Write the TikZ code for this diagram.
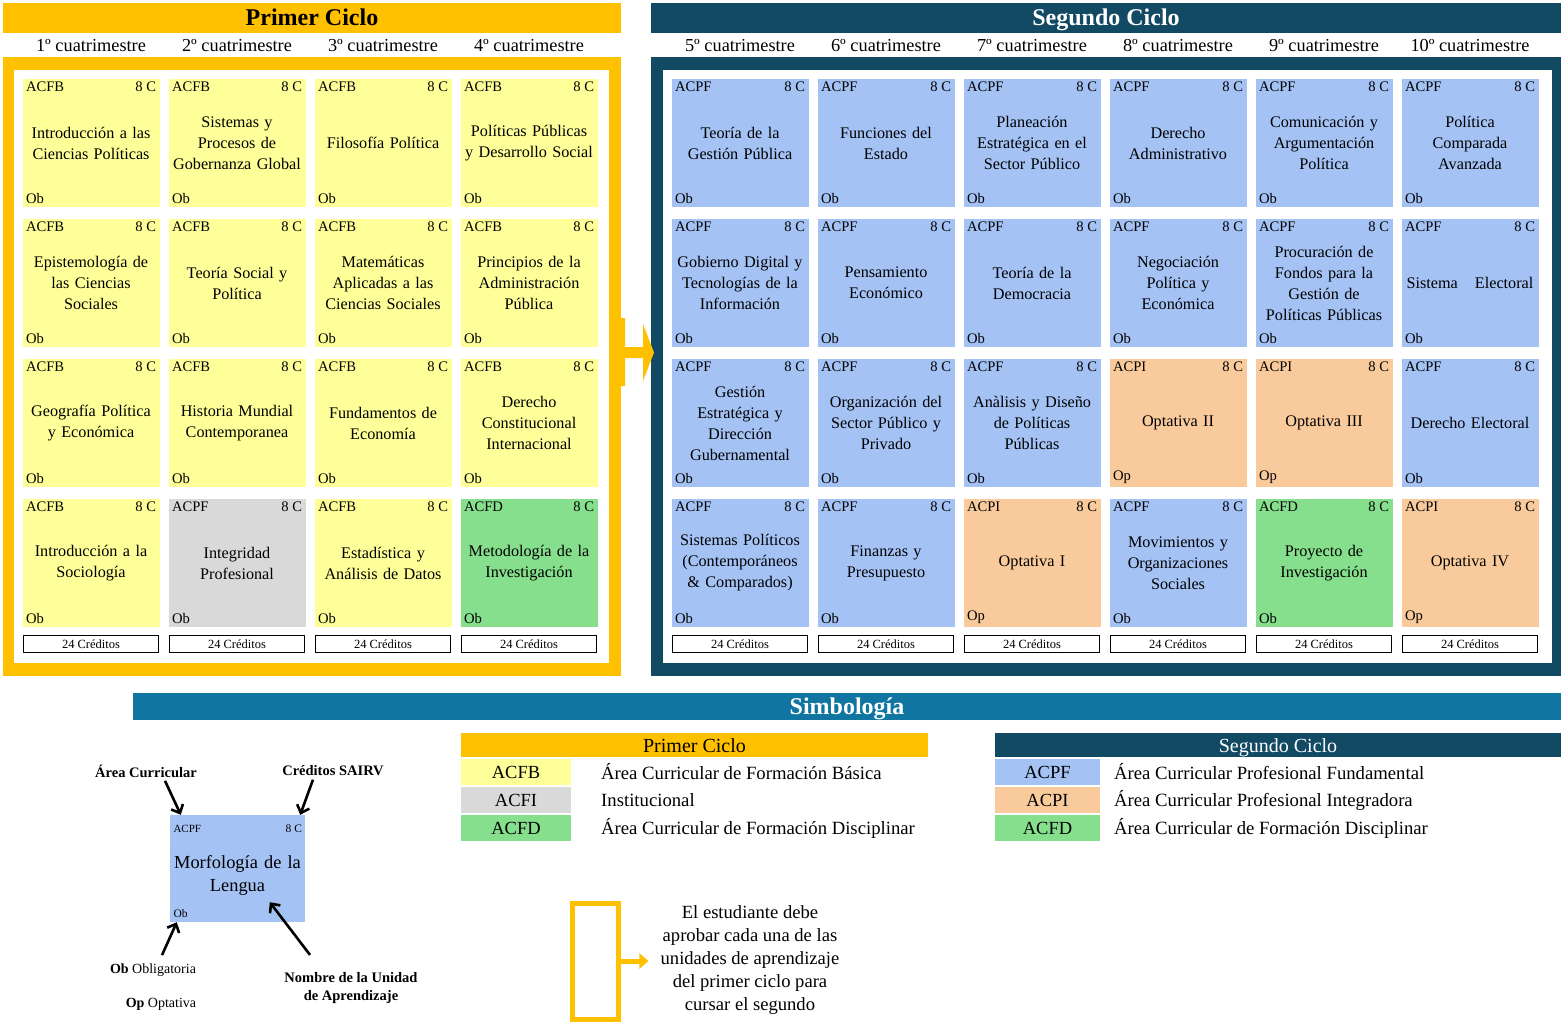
\documentclass[tikz,border=0pt]{standalone}
\usepackage{fontspec}
\setmainfont{Liberation Serif}
\usetikzlibrary{positioning, arrows.meta}

\definecolor{cicloA}{HTML}{FFC000}
\definecolor{cicloB}{HTML}{124963}
\definecolor{simb}{HTML}{1075A1}
\definecolor{fb}{HTML}{FFFF99}
\definecolor{fi}{HTML}{D9D9D9}
\definecolor{fd}{HTML}{86DF8C}
\definecolor{pf}{HTML}{A4C2F4}
\definecolor{pi}{HTML}{F9CB9C}
\newcommand{\fsz}[2]{\fontsize{#1pt}{#2pt}\selectfont}

\begin{document}
\begin{tikzpicture}[x=1pt, y=-1pt, node distance=140pt and 146pt, on grid,
    corner/.style={font=\fsz{14.6}{16}, inner xsep=3.5pt, inner ysep=3pt, text width=, align=left, minimum width=0pt, minimum height=0pt, fill=none},
    unit/.style n args={3}{fill=#1, minimum width=137pt, minimum height=128pt, text width=134pt, align=center, inner sep=0pt, font=\fsz{16.2}{21},
        label={[corner, anchor=north west]north west:#2},
        label={[corner, anchor=north east]north east:8 C},
        label={[corner, anchor=south west]south west:#3}},
    header/.style={minimum height=30pt, text height=19pt, text depth=3pt, inner sep=0pt, font=\bfseries\fsz{24}{28}},
    sem/.style={font=\fsz{18.3}{22}},
    cred/.style={draw, line width=1.5pt, fill=white, minimum width=135pt, minimum height=17pt, inner sep=0pt, font=\fsz{12.5}{14}},
    keyhead/.style={minimum height=24pt, text height=17pt, text depth=1.5pt, inner sep=0pt, font=\fsz{20}{24}},
    key/.style={minimum height=26pt, inner sep=0pt, font=\fsz{18.5}{22}},
    desc/.style={anchor=west, inner sep=0pt, font=\fsz{18.7}{22}},
    lab/.style={align=center, font=\bfseries\fsz{14.5}{18}},
    pointer/.style={line width=2.6pt, -{Straight Barb[length=7pt, width=13pt]}}]

    \useasboundingbox (0,0) rectangle (1566,1030);

    % frames of both cycles
    \fill[cicloA] (3,57) rectangle (621,676);
    \fill[white] (14,70) rectangle (609,663);
    \fill[cicloB] (651,57) rectangle (1561,676);
    \fill[white] (663,70) rectangle (1552,663);
    \fill[cicloA] (621,318) -- (625,318) -- (625,347) -- (643,347) -- (643,324) -- (654,352.5)
        -- (643,381) -- (643,358) -- (625,358) -- (625,386) -- (621,386) -- cycle;

    \node[header, fill=cicloA, minimum width=618pt] (t_1) at (312,18) {Primer Ciclo};
    \node[header, fill=cicloB, text=white, minimum width=910pt] (t_2) at (1106,18) {Segundo Ciclo};

    % primer ciclo
    \node[unit={fb}{ACFB}{Ob}] (c1_1) at (91,143) {Introducción a las\\Ciencias Políticas};
    \node[unit={fb}{ACFB}{Ob}] (c1_2) [below=of c1_1] {Epistemología de\\las Ciencias\\Sociales};
    \node[unit={fb}{ACFB}{Ob}] (c1_3) [below=of c1_2] {Geografía Política\\y Económica};
    \node[unit={fb}{ACFB}{Ob}] (c1_4) [below=of c1_3] {Introducción a la\\Sociología};

    \node[unit={fb}{ACFB}{Ob}] (c2_1) [right=of c1_1] {Sistemas y\\Procesos de\\Gobernanza Global};
    \node[unit={fb}{ACFB}{Ob}] (c2_2) [below=of c2_1] {Teoría Social y\\Política};
    \node[unit={fb}{ACFB}{Ob}] (c2_3) [below=of c2_2] {Historia Mundial\\Contemporanea};
    \node[unit={fi}{ACPF}{Ob}] (c2_4) [below=of c2_3] {Integridad\\Profesional};

    \node[unit={fb}{ACFB}{Ob}] (c3_1) [right=of c2_1] {Filosofía Política};
    \node[unit={fb}{ACFB}{Ob}] (c3_2) [below=of c3_1] {Matemáticas\\Aplicadas a las\\Ciencias Sociales};
    \node[unit={fb}{ACFB}{Ob}] (c3_3) [below=of c3_2] {Fundamentos de\\Economía};
    \node[unit={fb}{ACFB}{Ob}] (c3_4) [below=of c3_3] {Estadística y\\Análisis de Datos};

    \node[unit={fb}{ACFB}{Ob}] (c4_1) [right=of c3_1] {Políticas Públicas\\y Desarrollo Social};
    \node[unit={fb}{ACFB}{Ob}] (c4_2) [below=of c4_1] {Principios de la\\Administración\\Pública};
    \node[unit={fb}{ACFB}{Ob}] (c4_3) [below=of c4_2] {Derecho\\Constitucional\\Internacional};
    \node[unit={fd}{ACFD}{Ob}] (c4_4) [below=of c4_3] {Metodología de la\\Investigación};

    % segundo ciclo
    \node[unit={pf}{ACPF}{Ob}] (c5_1) [right=211pt of c4_1] {Teoría de la\\Gestión Pública};
    \node[unit={pf}{ACPF}{Ob}] (c5_2) [below=of c5_1] {Gobierno Digital y\\Tecnologías de la\\Información};
    \node[unit={pf}{ACPF}{Ob}] (c5_3) [below=of c5_2] {Gestión\\Estratégica y\\Dirección\\Gubernamental};
    \node[unit={pf}{ACPF}{Ob}] (c5_4) [below=of c5_3] {Sistemas Políticos\\(Contemporáneos\\\& Comparados)};

    \node[unit={pf}{ACPF}{Ob}] (c6_1) [right=of c5_1] {Funciones del\\Estado};
    \node[unit={pf}{ACPF}{Ob}] (c6_2) [below=of c6_1] {Pensamiento\\Económico};
    \node[unit={pf}{ACPF}{Ob}] (c6_3) [below=of c6_2] {Organización del\\Sector Público y\\Privado};
    \node[unit={pf}{ACPF}{Ob}] (c6_4) [below=of c6_3] {Finanzas y\\Presupuesto};

    \node[unit={pf}{ACPF}{Ob}] (c7_1) [right=of c6_1] {Planeación\\Estratégica en el\\Sector Público};
    \node[unit={pf}{ACPF}{Ob}] (c7_2) [below=of c7_1] {Teoría de la\\Democracia};
    \node[unit={pf}{ACPF}{Ob}] (c7_3) [below=of c7_2] {Anàlisis y Diseño\\de Políticas\\Públicas};
    \node[unit={pi}{ACPI}{Op}] (c7_4) [below=of c7_3] {Optativa I};

    \node[unit={pf}{ACPF}{Ob}] (c8_1) [right=of c7_1] {Derecho\\Administrativo};
    \node[unit={pf}{ACPF}{Ob}] (c8_2) [below=of c8_1] {Negociación\\Política y\\Económica};
    \node[unit={pi}{ACPI}{Op}] (c8_3) [below=of c8_2] {Optativa II};
    \node[unit={pf}{ACPF}{Ob}] (c8_4) [below=of c8_3] {Movimientos y\\Organizaciones\\Sociales};

    \node[unit={pf}{ACPF}{Ob}] (c9_1) [right=of c8_1] {Comunicación y\\Argumentación\\Política};
    \node[unit={pf}{ACPF}{Ob}] (c9_2) [below=of c9_1] {Procuración de\\Fondos para la\\Gestión de\\Políticas Públicas};
    \node[unit={pi}{ACPI}{Op}] (c9_3) [below=of c9_2] {Optativa III};
    \node[unit={fd}{ACFD}{Ob}] (c9_4) [below=of c9_3] {Proyecto de\\Investigación};

    \node[unit={pf}{ACPF}{Ob}] (c10_1) [right=of c9_1] {Política\\Comparada\\Avanzada};
    \node[unit={pf}{ACPF}{Ob}] (c10_2) [below=of c10_1] {Sistema\hspace{17pt}Electoral};
    \node[unit={pf}{ACPF}{Ob}] (c10_3) [below=of c10_2] {Derecho Electoral};
    \node[unit={pi}{ACPI}{Op}] (c10_4) [below=of c10_3] {Optativa IV};

    % cuatrimestres and credits
    \node[sem] (s1) [above=97pt of c1_1] {1º cuatrimestre};
    \node[sem] (s2) [above=97pt of c2_1] {2º cuatrimestre};
    \node[sem] (s3) [above=97pt of c3_1] {3º cuatrimestre};
    \node[sem] (s4) [above=97pt of c4_1] {4º cuatrimestre};
    \node[sem] (s5) [above=97pt of c5_1] {5º cuatrimestre};
    \node[sem] (s6) [above=97pt of c6_1] {6º cuatrimestre};
    \node[sem] (s7) [above=97pt of c7_1] {7º cuatrimestre};
    \node[sem] (s8) [above=97pt of c8_1] {8º cuatrimestre};
    \node[sem] (s9) [above=97pt of c9_1] {9º cuatrimestre};
    \node[sem] (s10) [above=97pt of c10_1] {10º cuatrimestre};

    \node[cred] (cr1) [below=81pt of c1_4] {24 Créditos};
    \node[cred] (cr2) [below=81pt of c2_4] {24 Créditos};
    \node[cred] (cr3) [below=81pt of c3_4] {24 Créditos};
    \node[cred] (cr4) [below=81pt of c4_4] {24 Créditos};
    \node[cred] (cr5) [below=81pt of c5_4] {24 Créditos};
    \node[cred] (cr6) [below=81pt of c6_4] {24 Créditos};
    \node[cred] (cr7) [below=81pt of c7_4] {24 Créditos};
    \node[cred] (cr8) [below=81pt of c8_4] {24 Créditos};
    \node[cred] (cr9) [below=81pt of c9_4] {24 Créditos};
    \node[cred] (cr10) [below=81pt of c10_4] {24 Créditos};

    % simbologia
    \node[header, fill=simb, text=white, minimum width=1428pt, minimum height=27pt] (simbo) at (847,706.5) {Simbología};

    \node[keyhead, fill=cicloA, minimum width=467pt] (k_1) at (694.5,745) {Primer Ciclo};
    \node[key, fill=fb, minimum width=110pt] (k_fb) at (516,772) {ACFB};
    \node[key, fill=fi, minimum width=110pt] (k_fi) at (516,800) {ACFI};
    \node[key, fill=fd, minimum width=110pt] (k_fd) at (516,828) {ACFD};
    \node[desc] (d_fb) at (601,772) {Área Curricular de Formación Básica};
    \node[desc] (d_fi) at (601,800) {Institucional};
    \node[desc] (d_fd) at (601,828) {Área Curricular de Formación Disciplinar};

    \node[keyhead, fill=cicloB, text=white, minimum width=566pt] (k_2) at (1278,745) {Segundo Ciclo};
    \node[key, fill=pf, minimum width=105pt] (k_pf) at (1047.5,772) {ACPF};
    \node[key, fill=pi, minimum width=105pt] (k_pi) at (1047.5,800) {ACPI};
    \node[key, fill=fd, minimum width=105pt] (k_fd2) at (1047.5,828) {ACFD};
    \node[desc] (d_pf) at (1114,772) {Área Curricular Profesional Fundamental};
    \node[desc] (d_pi) at (1114,800) {Área Curricular Profesional Integradora};
    \node[desc] (d_fd2) at (1114,828) {Área Curricular de Formación Disciplinar};

    % example unit
    \node[fill=pf, minimum width=135pt, minimum height=107pt, text width=131pt, align=center, inner sep=0pt, font=\fsz{18.4}{23},
        label={[corner, font=\fsz{11}{13}, inner ysep=10pt, anchor=north west]north west:ACPF},
        label={[corner, font=\fsz{11.5}{13}, inner ysep=10pt, inner xsep=3pt, anchor=north east]north east:8 C},
        label={[corner, font=\fsz{11.5}{13}, inner ysep=4pt, anchor=south west]south west:Ob}] (ex) at (237.5,868.5) {\rule{0pt}{27pt}Morfología de la\\Lengua};

    \node[lab] (l_area) at (146,771) {Área Curricular};
    \node[lab] (l_cred) at (333,771) {Créditos SAIRV};
    \node[lab] (l_name) at (351,988) {Nombre de la Unidad\\de Aprendizaje};
    \node[font=\fsz{14}{17}] (l_ob) at (153,970) {\textbf{Ob} Obligatoria};
    \node[font=\fsz{14}{17}] (l_op) at (161,1004) {\textbf{Op} Optativa};

    \draw[pointer] ([xshift=19pt]l_area.south) -- ([xshift=11pt]ex.north west);
    \draw[pointer] ([xshift=-20pt]l_cred.south) -- ([xshift=-5pt]ex.north east);
    \draw[pointer] ([xshift=9pt, yshift=5pt]l_ob.north) -- ([xshift=7pt]ex.south west);
    \draw[pointer] ([xshift=-41pt, yshift=14pt]l_name.north) -- ([xshift=100pt, yshift=20pt]ex.south west);

    % rule for second cycle
    \node[draw=cicloA, line width=5pt, minimum width=46pt, minimum height=116pt, inner sep=0pt] (gate) at (595.5,961) {};
    \node[align=center, inner sep=0pt, font=\fsz{18.6}{23.2}] (note) at (750,960) {El estudiante debe\\aprobar cada una de las\\unidades de aprendizaje\\del primer ciclo para\\cursar el segundo};
    \draw[cicloA, line width=5pt, -{Triangle[length=9pt, width=15pt]}, shorten >=12pt] (gate.east) -- (gate.east -| note.west);

\end{tikzpicture}
\end{document}
